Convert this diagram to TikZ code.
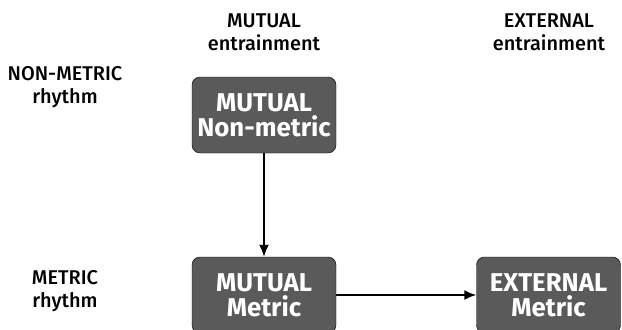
\documentclass[tikz,border=0pt]{standalone}
\usepackage{fontspec}
\setmainfont{Fira Sans}
\newfontfamily\medfont{Fira Sans Medium}
\usepackage{tikz}
\usetikzlibrary{arrows.meta}
\tikzset{>={Latex[length=3.6mm, width=3mm]}}
\definecolor{boxgray}{HTML}{5A5A5A}
\tikzset{
    box/.style={draw=black, fill=boxgray, rounded corners=8*0.03cm, minimum width=4.32cm, minimum height=2.28cm,
        align=center, text=white, font=\fontsize{22}{21}\selectfont\bfseries},
    lab/.style={align=center, font=\fontsize{17}{19.5}\selectfont\medfont},
    link/.style={line width=1.4pt, ->}
}

\begin{document}
\begin{tikzpicture}[x=0.03cm, y=-0.03cm]
    \useasboundingbox (0, 0) rectangle (622, 329);
    % column heads
    \node[lab](mutualhead) at (264, 32){MUTUAL\\entrainment};
    \node[lab](externalhead) at (549, 32){EXTERNAL\\entrainment};
    % row heads
    \node[lab](nonmetrichead) at (65, 87){NON-METRIC\\rhythm};
    \node[lab](metrichead) at (65, 291){METRIC\\rhythm};
    % boxes
    \node[box](mutualnon) at (264, 115){MUTUAL\\Non-metric};
    \node[box](mutualmet) at (264, 295){MUTUAL\\Metric};
    \node[box](externalmet) at (548.5, 295){EXTERNAL\\Metric};
    \draw[link](mutualnon)--(mutualmet);
    \draw[link](mutualmet)--(externalmet);
\end{tikzpicture}
\end{document}
